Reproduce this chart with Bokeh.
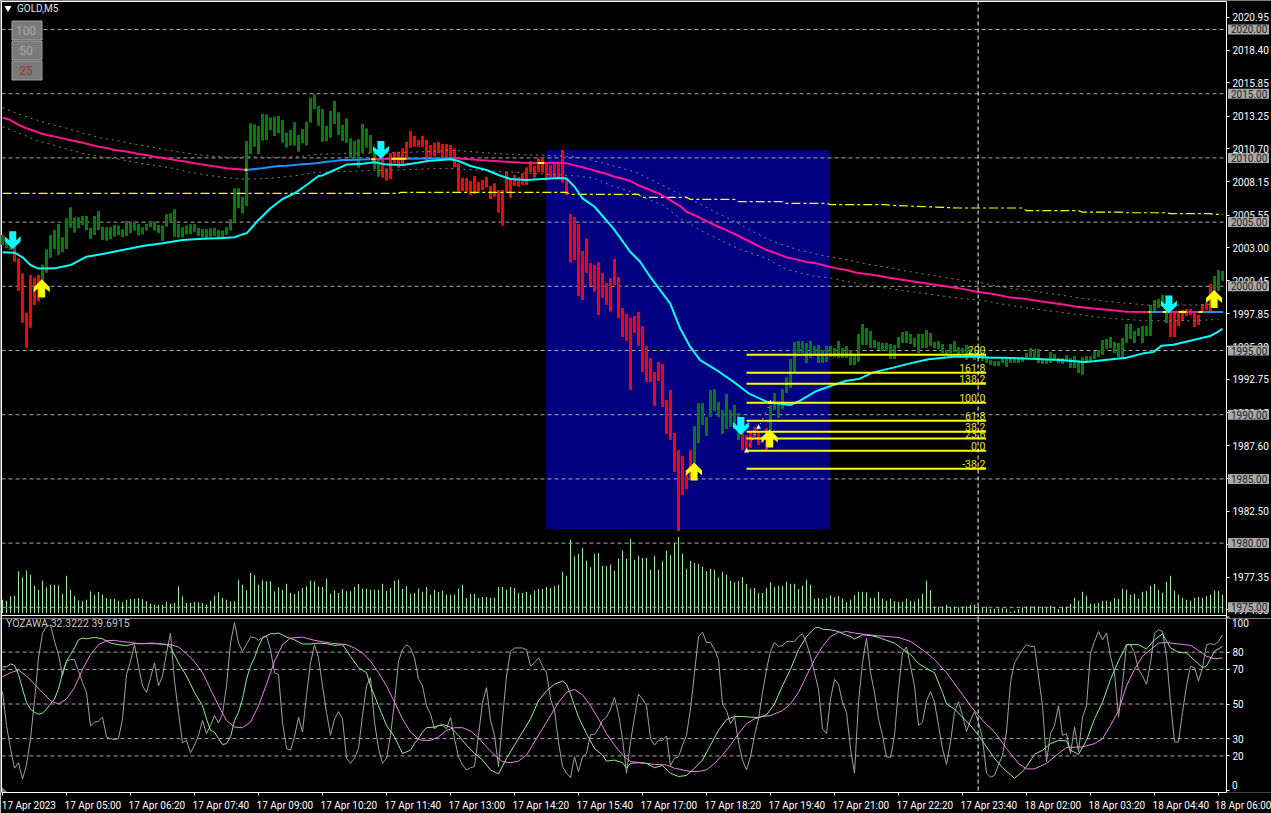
import numpy as np
from bokeh.embed import file_html
from bokeh.resources import INLINE
from bokeh.plotting import figure
from bokeh.layouts import column
from bokeh.models import FixedTicker, Label, Range1d, Span
from bokeh.core.properties import value

# ---------- price bars (body high / body low), one per 5-minute bar ----------
body_high = [
2003.92,2003.40,2003.14,2003.01,2002.10,2000.93,1997.87,2000.80,2000.60,2000.80,
2001.63,2002.80,2003.92,2004.31,2004.77,2003.74,2005.22,2006.07,2005.29,2005.29,
2005.40,2005.40,2004.49,2005.40,2005.79,2004.57,2004.52,2004.57,2004.70,2004.65,
2004.36,2005.01,2004.90,2004.96,2004.77,2004.52,2004.77,2004.96,2004.96,2004.70,
2004.65,2005.53,2005.61,2005.92,2004.77,2004.52,2004.65,2004.75,2004.77,2004.49,
2004.39,2004.39,2004.44,2004.49,2004.31,2004.26,2004.52,2005.14,2007.55,2007.55,
2006.90,2011.24,2012.62,2012.54,2012.41,2013.34,2013.32,2013.06,2013.13,2013.19,
2012.87,2011.91,2012.10,2012.69,2011.71,2012.17,2012.74,2014.61,2014.87,2013.96,
2013.73,2012.41,2013.57,2014.35,2013.47,2012.48,2013.00,2011.45,2011.24,2011.37,
2012.56,2012.22,2011.70,2010.41,2009.89,2009.89,2009.11,2010.28,2010.41,2010.41,
2010.67,2011.19,2012.02,2011.63,2011.32,2011.63,2011.32,2010.93,2011.11,2011.19,
2011.00,2011.00,2010.93,2010.67,2009.50,2008.38,2008.38,2008.15,2008.51,2008.07,
2008.20,2008.46,2007.73,2007.94,2007.42,2007.42,2008.85,2008.33,2008.59,2008.41,
2008.72,2009.19,2009.68,2009.29,2009.94,2009.94,2009.55,2009.37,2009.55,2009.63,
2010.54,2008.41,2005.55,2005.32,2004.77,2002.67,2003.66,2001.74,2001.58,2001.81,
2000.96,2000.18,2000.57,2002.05,2000.65,1998.23,1997.77,1997.45,1997.61,1997.92,
1996.83,1995.27,1994.34,1993.25,1994.03,1993.87,1991.07,1991.85,1988.50,1987.17,
1986.71,1985.62,1987.17,1989.04,1990.83,1990.83,1989.74,1991.85,1991.92,1990.91,
1990.29,1991.53,1990.29,1990.68,1990.06,1988.50,1988.34,1988.58,1988.97,1988.58,
1988.26,1988.89,1990.68,1991.61,1990.99,1991.92,1992.86,1994.26,1995.59,1995.66,
1995.66,1995.51,1995.66,1995.27,1995.35,1994.96,1995.27,1995.27,1995.12,1995.66,
1995.12,1995.27,1994.96,1994.65,1996.21,1996.99,1996.68,1996.44,1995.74,1995.59,
1995.51,1995.51,1995.43,1995.35,1995.97,1996.36,1996.44,1996.21,1995.90,1996.21,
1996.21,1996.52,1996.29,1995.59,1995.66,1995.43,1994.96,1995.43,1995.66,1995.20,
1995.12,1995.35,1995.04,1994.57,1994.57,1994.49,1994.49,1994.18,1994.10,1994.10,
1994.42,1994.26,1994.34,1994.26,1994.26,1994.42,1994.73,1995.12,1995.04,1995.04,
1994.26,1994.18,1994.81,1994.65,1994.34,1994.34,1994.57,1994.34,1994.49,1994.18,
1994.42,1994.49,1994.49,1994.88,1994.96,1995.74,1995.82,1995.97,1995.59,1995.51,
1995.90,1996.99,1996.99,1996.44,1996.68,1996.83,1996.83,1998.47,1998.86,1998.93,
1999.25,1998.62,1997.92,1997.92,1997.92,1998.08,1998.16,1998.16,1997.84,1997.69,
1998.55,1998.62,2000.10,2000.73,2001.19,2001.12]
body_low = [
2003.14,2002.88,2002.75,2001.84,1999.56,1997.09,1995.14,1996.70,1998.47,1998.73,
1998.98,2000.98,2002.15,2002.80,2002.36,2002.57,2002.83,2004.49,2004.10,2004.44,
2004.70,2004.31,2003.61,2003.92,2004.31,2003.53,2003.48,2003.58,2003.79,2003.92,
2003.74,2003.84,2004.05,2004.26,2003.87,2003.97,2004.26,2004.52,2004.26,2004.05,
2003.48,2004.57,2005.01,2003.79,2003.71,2003.74,2003.97,2003.98,2004.18,2003.84,
2003.74,2003.66,2003.79,2003.84,2003.58,2003.58,2003.92,2004.26,2004.96,2006.00,
2005.60,2006.18,2010.20,2010.80,2010.23,2011.27,2011.32,2012.10,2011.63,2011.84,
2011.11,2010.72,2010.88,2010.88,2010.41,2011.06,2010.88,2012.67,2013.73,2012.43,
2011.19,2011.24,2011.50,2012.56,2011.70,2011.24,2011.10,2009.89,2009.89,2009.16,
2010.33,2010.72,2010.28,2009.03,2008.46,2008.38,2008.15,2008.28,2009.50,2009.16,
2009.37,2009.89,2010.72,2010.80,2010.80,2010.80,2009.55,2010.02,2010.02,2010.28,
2009.94,2009.94,2009.89,2009.19,2007.29,2007.34,2007.29,2007.03,2007.11,2007.29,
2007.42,2007.60,2006.72,2006.90,2005.66,2004.64,2007.29,2006.82,2007.73,2007.68,
2007.81,2007.81,2008.80,2008.38,2008.80,2008.77,2008.15,2008.41,2008.41,2008.41,
2007.99,2007.03,2001.76,2001.97,1999.17,1998.86,2000.96,1999.95,1999.50,1997.69,
1999.01,1998.47,1997.95,2000.02,1997.45,1995.97,1995.66,1991.85,1996.29,1995.30,
1993.25,1992.47,1992.47,1990.60,1992.55,1990.52,1988.42,1987.95,1985.46,1980.87,
1983.67,1984.14,1984.92,1986.16,1987.72,1989.12,1988.26,1989.74,1990.21,1989.74,
1988.42,1988.81,1988.97,1988.81,1987.95,1987.17,1987.17,1987.33,1988.19,1987.56,
1987.72,1987.17,1988.73,1990.29,1989.67,1990.37,1991.61,1992.00,1993.25,1994.73,
1994.73,1993.95,1994.34,1994.57,1993.95,1993.95,1994.03,1994.42,1994.42,1994.34,
1994.34,1994.34,1993.79,1993.79,1994.03,1995.35,1995.35,1995.12,1995.12,1994.96,
1994.88,1994.88,1994.26,1994.26,1995.12,1995.51,1995.51,1995.43,1995.20,1994.73,
1995.12,1995.12,1995.27,1995.12,1995.04,1994.73,1994.57,1994.73,1994.81,1994.57,
1994.73,1994.18,1994.49,1994.18,1994.26,1994.10,1993.95,1993.79,1993.71,1993.71,
1993.95,1993.64,1993.95,1993.95,1993.95,1994.03,1994.26,1994.42,1994.26,1993.95,
1993.87,1993.87,1993.95,1994.18,1993.95,1993.87,1994.18,1993.56,1993.56,1993.17,
1993.02,1993.95,1994.03,1994.26,1994.42,1994.57,1995.04,1995.12,1994.73,1994.42,
1994.42,1995.51,1995.82,1995.51,1996.05,1995.51,1996.05,1996.05,1997.92,1998.23,
1998.47,1997.06,1995.97,1995.97,1996.83,1997.22,1997.61,1997.69,1996.75,1996.91,
1997.84,1998.08,1997.92,1999.56,1999.56,2000.34]
falling_runs = [(3, 9), (95, 172), (185, 191), (292, 302)]

# ---------- tick volume ----------
volume_a = [40,37,50,52,125,107,127,115,82,70,97,77,85,85,83,58,112,70,52,38,37,40,65,53,63,55,45,42,42,37,32,40,42,43,45,42,35,28,25,25,25,33,28,30,80,50,30,30,33,32,30,25,37,52,62,45,40,35,35,100,85,68,120,113,85,98,95,95,65,77,70,88,60,57,65,75,80,97,95,80,78,103,58,68,60,72,65,65,78,87,73,73,70,70,70,88,67,75,97,100,72,80,58,60,73]
volume_b = [62,78,55,70,63,67,55,55,55,73,85,45,57,57,46,48,48,46,46,77,78,70,78,75,60,60,64,55,67,72,72,78,75,80,85,124,112,220,170,177,195,157,137,178,180,142,140,145,127,163,187,163,222,160,172,165,165,130,172,130,155,187,173,210,228,178,133,157,150,147,139,125,132,130,107,124,115,97,92,95,108,87,73,75,60,60,75,92,77,82,80,94,88,88,72,82,100,85,42,45,43,46,53,47,52]
volume_c = [43,32,40,53,64,64,62,46,46,64,43,37,42,36,34,34,43,37,35,42,57,97,69,19,19,19,25,19,19,17,19,19,24,25,19,15,19,13,13,14,14,13,4,7,12,17,19,19,19,19,19,16,22,17,12,18,19,28,46,37,64,52,28,28,30,37,37,34,45,43,73,70,55,58,43,64,66,82,87,70,61,94,112,67,55,46,40,37,46,48,46,50,55,67,66,55]

# ---------- moving averages: (bar index, price) vertices ----------
ma_pink_a_x = [0,2,4,6,8,10,12,14,16,18,20,22,24,26,28,30,32,34,36,38,40,42,44,46,48,50,52,54,56,58,60,61]
ma_pink_a_y = [2013.06,2012.87,2012.49,2012.23,2012.02,2011.78,2011.65,2011.52,2011.37,2011.24,2011.11,2010.95,2010.80,2010.69,2010.54,2010.46,2010.36,2010.23,2010.15,2010.02,2009.94,2009.81,2009.71,2009.63,2009.50,2009.40,2009.32,2009.21,2009.11,2009.06,2009.01,2008.98]
ma_blue_a_x = [61,63,65,67,69,71,73,75,77,79,80,83,85,87,92]
ma_blue_a_y = [2008.98,2009.06,2009.11,2009.21,2009.29,2009.32,2009.37,2009.42,2009.47,2009.53,2009.58,2009.68,2009.76,2009.76,2009.81]
ma_mid_x = [92,97,101]
ma_mid_y = [2009.81,2009.86,2009.86]
ma_blue_b_x = [101,113]
ma_blue_b_y = [2009.86,2009.89]
ma_pink_b_x = [113,116,119,123,127,130,134,138,141,143,145,147,149,151,153,155,157,159,161.9,164.4,166.9,169.4,171,173.5,176,178.5,181,183.5,186,188.5,191,193.5,196,198.5,201,203.5,206,208.5,211,213.5,216,218.5,221,224.4,239.4,243.5,247.7,251.9,256,260.2,264.4,268.5,272.7,276.9,281,286.5]
ma_pink_b_y = [2009.89,2009.84,2009.76,2009.68,2009.60,2009.55,2009.52,2009.55,2009.50,2009.34,2009.19,2009.03,2008.85,2008.67,2008.46,2008.30,2008.12,2007.79,2007.42,2007.11,2006.64,2006.17,2005.73,2005.39,2005.00,2004.62,2004.30,2003.92,2003.53,2003.14,2002.75,2002.49,2002.18,2002.02,2001.81,2001.71,2001.50,2001.32,2001.19,2000.98,2000.88,2000.77,2000.62,2000.46,1999.76,1999.50,1999.32,1999.06,1998.93,1998.72,1998.54,1998.33,1998.20,1998.07,1997.94,1997.92]
ma_end_level = 1997.92
ma_end_blue = [(287, 290), (300, 305.2)]
ma_end_pink = [(291, 294), (296, 299)]
ma_end_yellow = [(286.5, 287), (290, 291), (294, 296), (299, 300)]
ma_yellow_marks = [(60.5, 61.2, 2009.0), (92.2, 93.2, 2009.82), (97.2, 101, 2009.86), (133.8, 135.4, 2009.52)]

cyan_x = [0,3,5,7,9,13,17,21,25,30,35,40,45,50,55,58,60,61,64,67,70,73,76,79,80,83,86,90,93,96,100,103,107,112,114,117,121,124,127,131,135,139,141,143,145,148,150,152.7,156.9,159.4,161.9,164.4,166.9,169.4,171.9,174.4,178.1,182.7,186.5,191,196.9,199.4,203.5,207.7,211,214,217.7,222.7,226.9,231.5,237.7,243.5,246.9,250,258.5,264.4,270.2,272.7,278.5,281,285.2,287.7,289.8,292.7,297.7,301.9,303.6,305]
cyan_y = [2002.57,2002.54,2002.18,2001.58,2001.30,2001.32,2001.58,2002.23,2002.44,2002.75,2003.06,2003.27,2003.53,2003.63,2003.68,2003.74,2003.97,2004.05,2005.09,2006.00,2006.72,2007.16,2007.81,2008.51,2008.56,2008.98,2009.40,2009.47,2009.58,2009.40,2009.37,2009.50,2009.71,2009.81,2009.68,2009.29,2008.98,2008.59,2008.28,2008.20,2008.28,2008.36,2008.31,2007.68,2006.77,2006.12,2005.40,2004.43,2002.62,2001.84,2000.67,1999.63,1998.59,1996.65,1995.22,1994.18,1993.48,1992.50,1991.59,1990.94,1990.68,1991.02,1991.77,1992.24,1992.57,1992.70,1993.22,1993.59,1993.92,1994.24,1994.44,1994.44,1994.36,1994.36,1994.26,1994.18,1994.02,1994.08,1994.28,1994.36,1994.70,1994.80,1995.30,1995.37,1995.74,1996.05,1996.33,1996.62]

step_x = [0,99,99.5,141,142,159,160,171,172,183,184,195,196,206,207,221,222,239,255,256,269,270,280,281,291,292,302,303,305]
step_y = [2007.16,2007.16,2007.24,2007.24,2007.09,2007.08,2006.85,2006.85,2006.69,2006.69,2006.51,2006.51,2006.38,2006.38,2006.28,2006.28,2006.23,2006.02,2006.02,2005.81,2005.81,2005.70,2005.70,2005.65,2005.65,2005.58,2005.58,2005.52,2005.52]

upper_x = [0,3.6,7.7,11.9,16,20.2,24.4,28.5,32.7,36.9,41,45.2,49.4,53.5,57.7,61.9,66,74.4,78.5,87.7,100,112.7,125,136,143,146,151,155,159,168.1,171.5,174.4,178.5,182.7,187.7,192.7,198.5,204.4,209.4,216,222.7,224.4,239.4,243.5,250,257,263.5,270,277,286,297.7,304]
upper_y = [2013.83,2013.39,2012.95,2012.56,2012.23,2011.84,2011.50,2011.27,2011.01,2010.80,2010.54,2010.33,2010.15,2010.02,2009.97,2010.02,2009.97,2010.02,2010.20,2010.28,2010.33,2010.51,2010.23,2010.12,2010.02,2009.84,2009.45,2009.11,2008.72,2007.29,2006.77,2006.33,2005.65,2005.03,2004.17,2003.40,2002.80,2002.36,2002.10,2001.66,2001.32,2001.19,2000.41,2000.28,1999.84,1999.58,1999.29,1998.98,1998.72,1998.46,1998.46,1998.54]
lower_x = [0,4.4,8.6,12.7,16.9,21,25.2,29.4,34.4,38.5,42.7,46.9,51,55.2,59.4,63.5,68.5,74.4,78.5,111,144,148,153,156,161.9,165.2,169.4,174.4,179.8,184.4,191,196,202.7,207.7,212.7,220.2,224.4,239.4,244.4,250,257,263.5,270,277,286,297.7,304]
lower_y = [2012.35,2011.84,2011.26,2010.93,2010.54,2010.20,2009.97,2009.81,2009.50,2009.32,2009.11,2008.80,2008.59,2008.41,2008.28,2008.28,2008.38,2008.59,2008.80,2009.11,2008.51,2008.33,2007.68,2007.42,2006.64,2006.25,2005.21,2004.30,2003.47,2002.80,2002.10,2001.24,2000.72,2000.54,2000.20,1999.81,1999.63,1998.98,1998.85,1998.54,1998.20,1997.94,1997.68,1997.42,1997.24,1997.24,1997.35]

# ---------- Fibonacci object ----------
fib_names = ["200", "161.8", "138.2", "100.0", "61.8", "38.2", "23.6", "0.0", "-38.2"]
fib_prices = [1994.60, 1993.20, 1992.34, 1990.86, 1989.46, 1988.60, 1988.06, 1987.12, 1985.72]
fib_start, fib_end = 186, 245.9
fib_trend_x = [186, 189, 192]
fib_trend_y = [1987.10, 1988.94, 1990.86]
zone_left, zone_right, zone_top, zone_bottom = 135.9, 206.9, 2010.54, 1981.02

# ---------- signal arrows: tip of each arrow ----------
up_x = [9.8, 172.9, 191.8, 302.9]
up_y = [2000.47, 1986.21, 1988.78, 1999.63]
down_x = [2.55, 94.6, 184.6, 291.6]
down_y = [2002.80, 2009.84, 1988.34, 1997.81]

# ---------- oscillator ----------
fast_a = [57.2,37.6,24.3,12.9,16.1,6.6,14.8,30,51.9,76.7,91,94.8,95.7,86.2,78.6,66.6,74.8,75.7,75.7,69,62.4,56.7,37.2,39.5,40.1,42.4,31,30,29.4,30,41.4,67.1,74.8,84.3,71.9,60.5,56.7,65.2,73.8,60.5,66.2,79.5,91,63.3,45.2,27.5,29,21.8,26.2,31.9,40.5,32.9,37.6,43.3,39,44.3,60.5,85.2,97,85.2,80.5,84.3,88.7,88.5,86.8,88.5,89.4,81.4,68.1,67.1,39.5,24.3,23.3,31,42.4,33.8,54.8,73.8,84.3,76.7,60.5,45.2,31.9,41.4,45.6,41.4,18.6,15.7,18.6,24.3,43.3,60.5,65.2,39.5,24.3,15.7,18.6,31.9,51,74.8,81.4,84.3,82.4,76.7,64.3]
fast_b = [60.5,49,44.3,35.7,37.6,37.6,35.7,42.4,30,19.5,14.8,11.9,13.2,13.8,31.9,51,59.5,40.5,31.9,13.8,41.4,66.2,80.5,82.4,82.4,82.4,81.4,71.9,73.8,76.7,71.9,68.1,52.9,46.2,28.1,13.8,10,7.5,19.5,10.9,19.5,21.4,32.3,32.3,35.7,40.5,42.4,47.1,53.8,44.3,30,10,28.1,42.4,55.7,52.9,49,30,26.2,29,29,31.5,14.4,18.6,19.5,26.2,31.9,47.1,68.1,89,91.5,85.6,85.6,81.4,75.7,50,46.2,38.6,42.4,28.1,17.6,11.9,19.5,31.9,41.4,56.7,70,80.5,85.6,83.3,83.7,86.2,86.2,86.2,89,90.6,85.2,77.6,68.1,58.6,35.7,32.9,52.9,64.3,61.4]
fast_c = [51,45.2,24.3,10,51,73.8,88.1,68.1,56.7,41.4,31.9,19.5,19.1,31.9,58.6,79.5,83,71.9,60.5,37.6,39.5,51.9,57.2,51,37.6,24.3,15.1,28.1,45.2,51.3,43.3,34.2,40.5,45.6,39.5,30,10,7.7,8.7,14.8,20.5,33.8,62.4,73.8,77.6,81.4,84.3,83.3,83.3,66.2,49,16.7,32.9,37.6,49,31.9,32.9,21.4,36.7,22.4,42.4,49,79.5,86.2,91.9,87.1,91,77.6,68.1,42.4,61.4,84.3,84.3,79.5,70,66.2,61.4,73.8,91,92.9,91.9,77.6,51,28.1,28.1,45.2,60.5,71.9,71,63.3,71,84.3,84.9,84.3,86.2,90]

signal_x = [0,1,2,3,4,5,6,7,8,9,10,11,12,13,14,15,16,17,18,19,20,21,22,23,25,27,29,31,33,35,37,39,41,42,44,46,48,50,51,52,53,54,55,56,57,58,59,60,61,62,63,64,65,66,67,68,69,70,71,73,75,77,79,81,83,85,87,89,91,92,94,96,98,99,100,102,103,104,
105,106,108,110,112,114,116,118,120,122,124,126,128,130,132,134,136,138,140,141,142,144,146,148,150,151,153,155,156,157,159,161,163,165,167,169,171,173,175,177,179,181,183,185,187,189,191,193,195,197,199,201,203,204,205,207,209,
210,212,213,215,217,219,221,223,225,227,229,231,233,235,236,238,240,242,244,246,248,250,253,255,256,258,260,262,264,266,267,269,271,273,275,277,279,281,284,286,288,290,292,294,296,298,300,301,303,305]
signal_y = [71.5,71.5,73.2,72.3,67.1,58.6,51,47.1,45.2,44.1,44.7,47.1,50,52.9,58.6,68.1,74.8,78.6,82.4,87.1,88.1,87.7,88.1,88.5,87.7,85.2,84.3,83.7,84.9,84.9,85.2,84.9,84.3,83,73.8,66.2,56.7,49,41.4,34.8,33.8,30,26.6,27.1,31,40.5,45.2,52.9,64.3,71.9,76.7,83.3,88.1,89.4,90.6,90.6,91,90,88.7,87.1,84.7,84.7,85.2,84.9,83.9,84.3,77.6,71,68.1,60.5,49,37.6,31,26.2,21.4,23.3,27.1,30,
33.8,36.3,36.7,38.2,36.7,31.9,26.2,21.4,17.6,11.9,9.6,18.6,26.2,33.8,41.4,51.9,57.6,61.4,63.3,61.4,55.7,42.4,32.9,24.3,20.5,17,17.6,16.1,12.9,15.7,16.1,15.7,13.2,14.4,10,8.1,8.7,12.9,17.6,26.2,34.8,41,42.8,42.8,42.4,42.2,43.7,50,60.5,70,81.4,89,93.8,94.4,93.2,92.9,91.9,
90.6,89,87.5,90,89.6,88.5,86.8,85.2,81.8,78.6,73.4,70.6,68.1,56.7,50,47.1,42.4,37.6,31.9,25.2,18.6,13.2,7.1,11,13.8,20.9,23.3,27.1,28.9,28.7,23.3,20.9,29,41.4,51,64.3,74.8,84.3,84.3,81.8,87.1,90.6,82.4,79.9,79.5,75.3,71,71.9,80.5,83.3]

slow_x = [0,2,4,6,8,10,12,14,16,18,20,22,24,26,28,30,32,34,38,42,44,46,48,50,52,54,56,58,60,62,64,66,68,70,72,75,78,82,86,88,90,92,94,96,98,100,102,104,
105,107,109,111,113,115,117,119,121,123,125,127,129,131,133,135,137,139,141,143,145,147,149,151,153,155,157,161,163,166,168,172,174,176,178,180,182,184,186,188,190,192,195,197,199,201,203,205,207,209,
210,211,213,216,219,224,227,230,233,236,239,242,245,248,251,254,256,258,261,264,266,270,273,275,277,279,281,283,285,287,289,291,294,297,299,301,303,305]
slow_y = [65.8,68.1,69.6,66.2,61.4,56.7,51.9,50,52.9,59.5,70,78.6,84.3,86.6,86.8,86,85.6,84.9,84.9,84.3,83,79.1,74.4,68.1,58.6,49,40.5,36.7,36.3,39.5,49,61.4,74.8,84.3,88.1,88.7,86.8,85.2,84.3,82.4,79.5,74.8,68.1,60.5,51,41.4,33.8,29.6,
29,29,31,34.8,36.3,36.3,34.4,30.4,25.2,20.5,16.7,16.1,17,20.5,28.1,35.7,43.3,51,56.7,58.4,55.3,49,41.4,32.9,26.2,20.5,16.7,15.7,15.1,14.8,12.9,11,11,11.9,15.7,20.5,26.2,32.9,38.6,41.4,42.8,43.3,46.2,50,56.7,66.2,75.7,83.3,89,91.5,
91.5,91.9,91,90.2,89.4,88.5,86.2,81.4,75.7,68.1,58.6,49,40.5,33.8,24.3,15.7,12.5,12.5,15.7,21.4,24.9,25.2,27.1,30,37.6,46.2,60.5,70,77.6,81.4,85.2,85.6,84.7,83.9,81,77.6,76.1,76.7]

# ---------- axes ----------
price_ticks = [2020.95,2018.40,2015.85,2013.25,2010.70,2008.15,2005.55,2003.00,2000.45,1997.85,1995.30,1992.75,1990.15,1987.60,1985.05,1982.50,1979.90,1977.35,1974.80]
price_levels = [2020,2015,2010,2005,2000,1995,1990,1985,1980,1975]
osc_ticks = [80, 70, 50, 30, 20]
time_labels = ["17 Apr 2023","17 Apr 05:00","17 Apr 06:20","17 Apr 07:40","17 Apr 09:00","17 Apr 10:20","17 Apr 11:40","17 Apr 13:00","17 Apr 14:20","17 Apr 15:40","17 Apr 17:00","17 Apr 18:20","17 Apr 19:40","17 Apr 21:00","17 Apr 22:20","17 Apr 23:40","18 Apr 02:00","18 Apr 03:20","18 Apr 04:40","18 Apr 06:00"]
bars_per_label = 16
cursor_bar = 243.9

# ---------- layout helpers (page pixel -> data) ----------
PX_PER_BAR = 4.0
PRICE_PER_PX = 0.07788
OSC_PX_PER_UNIT = 1.75
READ_OFFSET = 0.0774     # bars and lines were read against a level scale that sits about a pixel lower
SPLIT = 618              # page row where the price figure hands over to the oscillator figure
def bx(px): return (px - 2.5) / PX_PER_BAR
def cp(y): return 2022.2585 - PRICE_PER_PX * y
def py(y): return cp(y - 0.5)
def oy(y): return (792.5 - y) / OSC_PX_PER_UNIT
def P(a): return (np.asarray(a, dtype=float) + READ_OFFSET).tolist()

FONT = "Roboto"
FS = "10px"
BG = "#000000"
GRID = "#ababab"
X0, X1 = 1.5, 1226.5

p1 = figure(width=1271, height=SPLIT, output_backend="svg", toolbar_location=None,
            x_range=Range1d(bx(0.5), bx(1271.5)), y_range=Range1d(cp(SPLIT), cp(0)),
            x_axis_location=None, y_axis_location="right",
            background_fill_color=BG, border_fill_color=BG,
            min_border_left=0, min_border_right=0, min_border_top=0, min_border_bottom=0,
            outline_line_color=None)
p1.grid.visible = False
p1.extra_y_ranges = {"vol": Range1d(-16.5, 1837.5)}
ya = p1.yaxis[0]
ya.fixed_location = bx(X1)
ya.bounds = (py(SPLIT), py(1))
ya.ticker = FixedTicker(ticks=price_ticks)
ya.major_label_overrides = {t: f"{t:.2f}" for t in price_ticks}
ya.axis_line_color = "white"
ya.major_tick_line_color = "white"
ya.major_tick_out = 3
ya.major_tick_in = 0
ya.minor_tick_out = 0
ya.minor_tick_in = 0
ya.major_label_text_color = "white"
ya.major_label_text_font = FONT
ya.major_label_text_font_size = FS
ya.major_label_standoff = 3

# pane borders, and the oscillator's top tick
p1.segment([bx(X0), bx(X0), bx(X0), bx(X1)], [py(1.5), py(0), py(615.5), py(617)],
           [bx(X1), bx(X0), bx(X1), bx(X1 + 3)], [py(1.5), py(SPLIT), py(615.5), py(617)],
           line_color="white", line_width=1)

# zone
p1.quad(left=[zone_left], right=[zone_right], top=P([zone_top]), bottom=P([zone_bottom]),
        fill_color="#000080", line_color=None, level="image")

# level lines
p1.segment(x0=[bx(X0)] * len(price_levels), x1=[bx(X1)] * len(price_levels), y0=price_levels, y1=price_levels,
           line_color=GRID, line_width=1, line_dash="4 3", level="underlay")

# volume
vol = volume_a + volume_b + volume_c
p1.vbar(x=np.arange(len(vol)), width=0.25, top=vol, bottom=0, y_range_name="vol",
        fill_color="#90EE90", line_color=None)

# price bars
idx = np.arange(len(body_high))
is_down = np.zeros(len(idx), dtype=bool)
for a, b in falling_runs:
    is_down[a:b + 1] = True
colors = ["#FF0000" if d else "#008000" for d in is_down]
p1.vbar(x=idx, width=0.75, top=P(body_high), bottom=P(body_low), fill_color=colors, line_color=None)

# envelopes
p1.line(upper_x, P(upper_y), line_color="#808080", line_width=1, line_dash="2 4")
p1.line(lower_x, P(lower_y), line_color="#808080", line_width=1, line_dash="2 4")
# stepped level
p1.line(step_x, P(step_y), line_color="#FFFF00", line_width=1.2, line_dash="9 3 3 3")

# moving averages
PINK, BLUE = "#FF1493", "#1E90FF"
p1.line(ma_pink_a_x, P(ma_pink_a_y), line_color=PINK, line_width=2)
p1.line(ma_blue_a_x, P(ma_blue_a_y), line_color=BLUE, line_width=2)
p1.line(ma_mid_x, P(ma_mid_y), line_color=PINK, line_width=2)
p1.line(ma_blue_b_x, P(ma_blue_b_y), line_color=BLUE, line_width=2)
p1.line(ma_pink_b_x, P(ma_pink_b_y), line_color=PINK, line_width=2)
for a, b in ma_end_blue:
    p1.line([a, b], P([ma_end_level, ma_end_level]), line_color=BLUE, line_width=2)
for a, b in ma_end_pink:
    p1.line([a, b], P([ma_end_level, ma_end_level]), line_color=PINK, line_width=2)
for a, b in ma_end_yellow:
    p1.line([a, b], P([ma_end_level, ma_end_level]), line_color="#FFFF00", line_width=2)
for a, b, lvl in ma_yellow_marks:
    p1.line([a, b], P([lvl, lvl]), line_color="#FFFF00", line_width=2)
p1.line(cyan_x, P(cyan_y), line_color="#00FFFF", line_width=2)

# fibonacci
for lvl in fib_prices:
    p1.line([fib_start, fib_end], P([lvl, lvl]), line_color="#FFFF00", line_width=2)
p1.line(fib_trend_x, P(fib_trend_y), line_color="#FFFF80", line_width=1, line_dash="1 5")
p1.scatter(fib_trend_x, P(fib_trend_y), marker="triangle", size=5, fill_color="#FFFFA0", line_color=None)
p1.text(x=[fib_end - 0.15] * len(fib_names), y=P([v + 0.5 * PRICE_PER_PX for v in fib_prices]), text=fib_names,
        text_color="#E8E800", text_align="right", text_baseline="bottom",
        text_font=value(FONT), text_font_size="10.5px")

# arrows
ARROW = [(0, 0), (8, 8), (8, 13), (3.5, 9), (3.5, 18), (-3.5, 18), (-3.5, 9), (-8, 13), (-8, 8)]
def arrow(x, y, sign):
    return ([x + a / PX_PER_BAR for a, b in ARROW], [y + READ_OFFSET - sign * b * PRICE_PER_PX for a, b in ARROW])
xs, ys = zip(*[arrow(x, y, 1) for x, y in zip(up_x, up_y)])
p1.patches(list(xs), list(ys), fill_color="#FFFF00", line_color=None)
xs, ys = zip(*[arrow(x, y, -1) for x, y in zip(down_x, down_y)])
p1.patches(list(xs), list(ys), fill_color="#00FFFF", line_color=None)

# price boxes, above the axis labels
n = len(price_levels)
p1.quad(left=[bx(1228)] * n, right=[bx(1269)] * n, top=[v + 5 * PRICE_PER_PX for v in price_levels],
        bottom=[v - 5 * PRICE_PER_PX for v in price_levels], fill_color="#A9A9A9", line_color=None, level="overlay")
p1.text(x=[bx(1231)] * n, y=price_levels, text=[f"{v:.2f}" for v in price_levels], text_color="#222222",
        text_font=value(FONT), text_font_size=FS, text_baseline="middle", text_align="left", level="overlay")

# header
p1.scatter([bx(8)], [py(8)], marker="inverted_triangle", size=7, fill_color="white", line_color=None)
p1.add_layout(Label(x=bx(17), y=py(8), text="GOLD,M5", text_color="#E0E0E0", text_font=FONT,
                    text_font_size=FS, text_baseline="middle"))
for top, bottom, txt, col in [(21, 40, "100", "#A8A8A8"), (41, 60, "50", "#A8A8A8"), (61, 80, "25", "#A83030")]:
    p1.quad(left=[bx(12)], right=[bx(42)], top=[py(top)], bottom=[py(bottom)], fill_color="#7A7A7A",
            line_color="#A0A0A0", line_width=1)
    p1.add_layout(Label(x=bx(26), y=py((top + bottom) / 2), text=txt, text_color=col,
                        text_font=FONT, text_font_size="12px", text_align="center",
                        text_baseline="middle"))

p1.add_layout(Span(location=cursor_bar, dimension="height", line_color="white", line_dash="4 3", line_width=1))

# ---------- oscillator pane ----------
p2 = figure(width=1271, height=813 - SPLIT, output_backend="svg", toolbar_location=None,
            x_range=p1.x_range, y_range=Range1d(oy(794.5), oy(SPLIT + 0.5)),
            y_axis_location="right", x_axis_location="below",
            background_fill_color=BG, border_fill_color=BG,
            min_border_left=0, min_border_right=0, min_border_top=0, min_border_bottom=19,
            outline_line_color=None)
p2.grid.visible = False
p2.segment([bx(X0)], [oy(SPLIT)], [bx(X0)], [oy(794)], line_color="white", line_width=1)
p2.segment(x0=[bx(X0)] * len(osc_ticks), x1=[bx(X1)] * len(osc_ticks), y0=osc_ticks, y1=osc_ticks,
           line_color=GRID, line_width=1, line_dash="4 3", level="underlay")
ya2 = p2.yaxis[0]
ya2.fixed_location = bx(X1)
ya2.ticker = FixedTicker(ticks=osc_ticks + [0])
ya2.major_label_overrides = {0: ""}
ya2.axis_line_color = "white"
ya2.major_tick_line_color = "white"
ya2.major_tick_out = 3
ya2.major_tick_in = 0
ya2.minor_tick_out = 0
ya2.minor_tick_in = 0
ya2.major_label_text_color = "white"
ya2.major_label_text_font = FONT
ya2.major_label_text_font_size = FS
ya2.major_label_standoff = 3

# time axis: the labels start at their tick, so the axis labels sit half a label to the right of the tick marks
LABEL_SHIFT = 6.6
xa = p2.xaxis[0]
tick_pos = [i * bars_per_label for i in range(len(time_labels))]
label_pos = [t + LABEL_SHIFT for t in tick_pos]
xa.ticker = FixedTicker(ticks=label_pos, minor_ticks=tick_pos)
xa.major_label_overrides = dict(zip(label_pos, time_labels))
xa.bounds = (bx(X0), bx(X1))
xa.axis_line_color = "white"
xa.major_tick_line_color = None
xa.minor_tick_line_color = "white"
xa.major_tick_out = 0
xa.major_tick_in = 0
xa.minor_tick_out = 3
xa.minor_tick_in = 0
xa.major_label_text_color = "white"
xa.major_label_text_font = FONT
xa.major_label_text_font_size = FS
xa.major_label_standoff = 4

p2.text(x=[bx(1232), bx(1232)], y=[oy(623), oy(787)], text=["100", "0"], text_color="white",
        text_font=value(FONT), text_font_size=FS, text_baseline="middle")
p2.add_layout(Label(x=bx(6), y=oy(624), text="YOZAWA 32.3222 39.6915", text_color="#C8C8C8",
                    text_font=FONT, text_font_size="10.5px", text_baseline="middle"))

fast = fast_a + fast_b + fast_c
p2.line(np.arange(len(fast)), fast, line_color="#A0A0A0", line_width=1)
p2.line(signal_x, signal_y, line_color="#90EE90", line_width=1)
p2.line(slow_x, slow_y, line_color="#EE82EE", line_width=1)
p2.patch([bx(2), bx(2), bx(7)], [oy(789), oy(794), oy(794)], fill_color="#808080", line_color=None)
p2.add_layout(Span(location=cursor_bar, dimension="height", line_color="white", line_dash="4 3", line_width=1))

page = column(p1, p2, spacing=0, width=1271, height=813)
open("out.html", "w").write(file_html(page, INLINE))
